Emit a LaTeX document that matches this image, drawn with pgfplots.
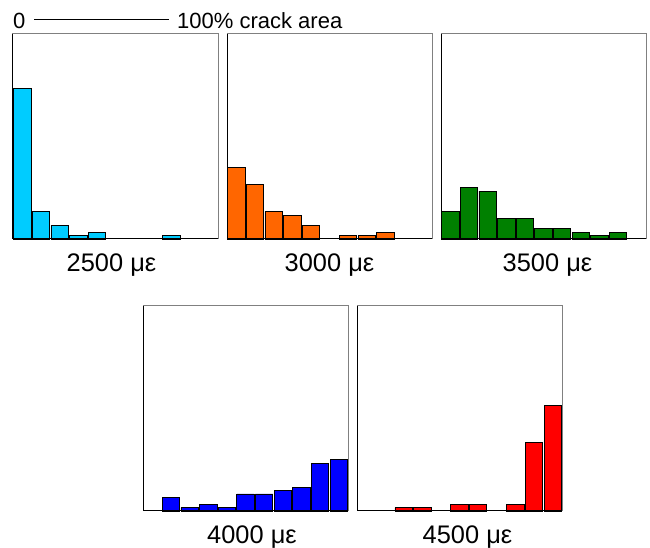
\documentclass[border=0pt]{standalone}
\usepackage{pgfplots}
\pgfplotsset{compat=1.18}
\usepackage{fontspec}
\setmainfont{Liberation Sans}
\definecolor{cCyan}{HTML}{00CCFF}
\definecolor{cOrange}{HTML}{FF6600}
\definecolor{cGreen}{HTML}{008000}
\definecolor{cBlue}{HTML}{0000FF}
\definecolor{cRed}{HTML}{FF0000}
\pgfplotsset{
  hist/.style={
    scale only axis, width=205pt, height=205pt,
    xmin=0, xmax=11, ymin=0, ymax=60, enlargelimits=false,
    xtick=\empty, ytick=\empty,
    ybar, bar width=0.93,
    anchor=south west, clip=false,
    axis line style={draw=black!50, line width=1pt},
    every axis plot/.append style={draw=black, line width=0.7pt},
  },
}
\newcommand\blackedges{\draw[black, line width=1pt] (rel axis cs:0,1) -- (rel axis cs:0,0) -- (rel axis cs:1,0);}
\newcommand\panellabel[2]{\node[anchor=base, inner sep=0pt, font=\fontsize{25.4}{30}\selectfont] at (rel axis cs:0.5,0) [yshift=-33pt, xshift=#1] {#2};}
\begin{document}
\begin{tikzpicture}[x=1pt,y=1pt]
\path[use as bounding box] (0,0) rectangle (650,548);
% scale label
\node[anchor=base west, inner sep=0pt, font=\fontsize{22}{26}\selectfont] at (13,519) {0};
\draw[black, line width=1.6pt] (34,528.5) -- (169,528.5);
\node[anchor=base west, inner sep=0pt, font=\fontsize{22}{26}\selectfont] at (177,519) {100\% crack area};

\begin{axis}[hist, at={(13pt,309pt)}]
\addplot[fill=cCyan] coordinates {(0.5,44) (1.5,8) (2.5,4) (3.5,1) (4.5,2) (8.5,1)};
\blackedges
\panellabel{-4pt}{2500 με}
\end{axis}

\begin{axis}[hist, at={(227pt,309pt)}]
\addplot[fill=cOrange] coordinates {(0.5,21) (1.5,16) (2.5,8) (3.5,7) (4.5,4) (6.5,1) (7.5,1) (8.5,2)};
\blackedges
\panellabel{0pt}{3000 με}
\end{axis}

\begin{axis}[hist, at={(441pt,309pt)}]
\addplot[fill=cGreen] coordinates {(0.5,8) (1.5,15) (2.5,14) (3.5,6) (4.5,6) (5.5,3) (6.5,3) (7.5,2) (8.5,1) (9.5,2)};
\blackedges
\panellabel{4pt}{3500 με}
\end{axis}

\begin{axis}[hist, at={(143pt,37pt)}]
\addplot[fill=cBlue] coordinates {(1.5,4) (2.5,1) (3.5,2) (4.5,1) (5.5,5) (6.5,5) (7.5,6) (8.5,7) (9.5,14) (10.5,15)};
\blackedges
\panellabel{6.5pt}{4000 με}
\end{axis}

\begin{axis}[hist, at={(357pt,37pt)}]
\addplot[fill=cRed] coordinates {(2.5,1) (3.5,1) (5.5,2) (6.5,2) (8.5,2) (9.5,20) (10.5,31)};
\blackedges
\panellabel{8pt}{4500 με}
\end{axis}
\end{tikzpicture}
\end{document}
